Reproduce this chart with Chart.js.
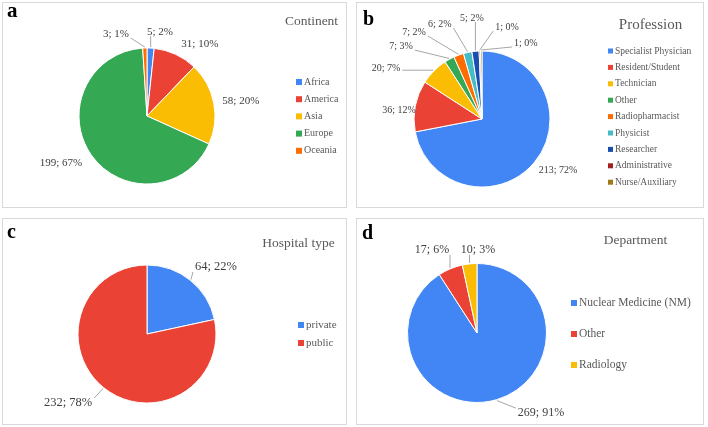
<!DOCTYPE html>
<html>
<head>
<meta charset="utf-8">
<script src="https://cdn.jsdelivr.net/npm/chart.js@4.4.0/dist/chart.umd.min.js"></script>
<style>
  html, body { margin: 0; padding: 0; background: #fff; }
  body { width: 708px; height: 427px; position: relative; overflow: hidden; }
  .panel { position: absolute; border: 1px solid #d9d9d9; box-sizing: border-box; }
  .panel canvas { position: absolute; left: 0; top: 0; }
</style>
</head>
<body>
<div class="panel" style="left:2px;top:2px;width:345px;height:206px"><canvas id="ca" width="343" height="204"></canvas></div>
<div class="panel" style="left:356px;top:2px;width:348px;height:206px"><canvas id="cb" width="346" height="204"></canvas></div>
<div class="panel" style="left:2px;top:218px;width:345px;height:207px"><canvas id="cc" width="343" height="205"></canvas></div>
<div class="panel" style="left:356px;top:218px;width:348px;height:207px"><canvas id="cd" width="346" height="205"></canvas></div>
<script>
'use strict'

// data
const continentLabels = ['Africa', 'America', 'Asia', 'Europe', 'Oceania'];
const continentValues = [5, 31, 58, 199, 3];
const continentPct = [2, 10, 20, 67, 1];

const professionLabels = ['Specialist Physician', 'Resident/Student', 'Technician', 'Other',
  'Radiopharmacist', 'Physicist', 'Researcher', 'Administrative', 'Nurse/Auxiliary'];
const professionValues = [213, 36, 20, 7, 7, 6, 5, 1, 1];
const professionPct = [72, 12, 7, 3, 2, 2, 2, 0, 0];

const hospitalLabels = ['private', 'public'];
const hospitalValues = [64, 232];
const hospitalPct = [22, 78];

const departmentLabels = ['Nuclear Medicine (NM)', 'Other', 'Radiology'];
const departmentValues = [269, 17, 10];
const departmentPct = [91, 6, 3];

const BLUE = '#4285F4', RED = '#EA4335', YELLOW = '#FBBC04', GREEN = '#34A853',
  ORANGE = '#FF6D01', TEAL = '#46BDC6', NAVY = '#1A4DB0', MAROON = '#A31F1F', OLIVE = '#A07A16';

const SERIF = '"Liberation Serif", "Times New Roman", serif';

// draws slice labels with leader lines, the legend, the title and the panel letter
const panelText = {
  id: 'panelText',
  afterDraw(chart, args, o) {
    const ctx = chart.ctx;
    const meta = chart.getDatasetMeta(0);
    const ds = chart.data.datasets[0];
    ctx.save();

    ctx.font = o.labelSize + 'px ' + SERIF;
    ctx.textBaseline = 'middle';
    ctx.textAlign = 'center';
    meta.data.forEach(function(arc, i) {
      const p = arc.getProps(['x', 'y', 'startAngle', 'endAngle', 'outerRadius'], true);
      const spot = o.spots[i];
      const a = spot[0] * Math.PI / 180;
      const lx = p.x + spot[1] * Math.sin(a);
      const ly = p.y - spot[1] * Math.cos(a);
      const text = ds.data[i] + '; ' + o.pct[i] + '%';
      const w = ctx.measureText(text).width;
      const h = o.labelSize * 0.8;
      if (spot[2]) {
        const mid = (p.startAngle + p.endAngle) / 2;
        const rx = p.x + (p.outerRadius + 1) * Math.cos(mid);
        const ry = p.y + (p.outerRadius + 1) * Math.sin(mid);
        const bx = Math.min(Math.max(rx, lx - w / 2 - 2), lx + w / 2 + 2);
        const by = Math.min(Math.max(ry, ly - h / 2), ly + h / 2);
        ctx.strokeStyle = '#a6a6a6';
        ctx.lineWidth = 1;
        ctx.beginPath();
        ctx.moveTo(bx, by);
        ctx.lineTo(rx, ry);
        ctx.stroke();
      }
      ctx.fillStyle = '#404040';
      ctx.fillText(text, lx, ly);
    });

    // legend
    const lg = o.legend;
    ctx.textAlign = 'left';
    ctx.font = lg.size + 'px ' + SERIF;
    chart.data.labels.forEach(function(label, i) {
      const y = lg.y + i * lg.gap;
      ctx.fillStyle = ds.backgroundColor[i];
      ctx.fillRect(lg.x, y - lg.box / 2, lg.box, lg.box);
      ctx.fillStyle = '#595959';
      ctx.fillText(label, lg.x + lg.box + 2, y);
    });

    // title
    ctx.textAlign = 'center';
    ctx.font = o.title.size + 'px ' + SERIF;
    ctx.fillStyle = '#595959';
    ctx.fillText(o.title.text, o.title.x, o.title.y);

    // panel letter
    ctx.textAlign = 'left';
    ctx.textBaseline = 'alphabetic';
    ctx.font = 'bold ' + o.tag.size + 'px ' + SERIF;
    ctx.fillStyle = '#000';
    ctx.fillText(o.tag.text, o.tag.x, o.tag.y);

    ctx.restore();
  }
};

function makePie(id, labels, values, pct, colors, pie, text) {
  const canvas = document.getElementById(id);
  const cw = canvas.width, ch = canvas.height;
  return new Chart(canvas.getContext('2d'), {
    type: 'pie',
    data: {
      labels: labels,
      datasets: [{
        data: values,
        backgroundColor: colors,
        borderColor: '#ffffff',
        borderWidth: 1
      }]
    },
    options: {
      responsive: false,
      animation: false,
      events: [],
      layout: {
        padding: {
          left: pie.cx - pie.r,
          top: pie.cy - pie.r,
          right: cw - pie.cx - pie.r,
          bottom: ch - pie.cy - pie.r
        }
      },
      plugins: {
        legend: { display: false },
        tooltip: { enabled: false },
        panelText: Object.assign({ pct: pct }, text)
      }
    },
    plugins: [panelText]
  });
}

makePie('ca', continentLabels, continentValues, continentPct,
  [BLUE, RED, YELLOW, GREEN, ORANGE],
  { cx: 144, cy: 113, r: 68.5 },
  {
    labelSize: 11,
    spots: [[8.8, 85, true], [36.4, 89, false], [80.9, 95, false], [241.3, 98, false], [339.3, 88, true]],
    legend: { x: 293, y: 79, gap: 17.2, size: 10, box: 6 },
    title: { text: 'Continent', x: 308.5, y: 18, size: 13.5 },
    tag: { text: 'a', x: 4, y: 14, size: 21 }
  });

makePie('cb', professionLabels, professionValues, professionPct,
  [BLUE, RED, YELLOW, GREEN, ORANGE, TEAL, NAVY, MAROON, OLIVE],
  { cx: 125, cy: 116, r: 68.5 },
  {
    labelSize: 10,
    spots: [[123.9, 91.5, false], [276.2, 83.5, false], [298, 108.7, true], [312, 109, true],
      [322, 110.4, true], [336, 103.9, true], [354.3, 101.5, true], [15.2, 95.3, true], [30, 87.8, true]],
    legend: { x: 251, y: 48, gap: 16.4, size: 9.5, box: 5 },
    title: { text: 'Profession', x: 293.5, y: 22, size: 15 },
    tag: { text: 'b', x: 6, y: 22, size: 20 }
  });

makePie('cc', hospitalLabels, hospitalValues, hospitalPct,
  [BLUE, RED],
  { cx: 144, cy: 115, r: 69.5 },
  {
    labelSize: 12.5,
    spots: [[45.8, 96.2, true], [228.8, 104.9, true]],
    legend: { x: 295, y: 106, gap: 18, size: 11, box: 6 },
    title: { text: 'Hospital type', x: 295.5, y: 24, size: 13.5 },
    tag: { text: 'c', x: 4, y: 19, size: 20 }
  });

makePie('cd', departmentLabels, departmentValues, departmentPct,
  [BLUE, RED, YELLOW],
  { cx: 120, cy: 114, r: 70 },
  {
    labelSize: 12,
    spots: [[141.3, 102.4, true], [331.5, 94.4, true], [0.7, 83, true]],
    legend: { x: 214, y: 84, gap: 31, size: 11.5, box: 6 },
    title: { text: 'Department', x: 278.5, y: 21, size: 13.5 },
    tag: { text: 'd', x: 5, y: 20, size: 20 }
  });
</script>
</body>
</html>
